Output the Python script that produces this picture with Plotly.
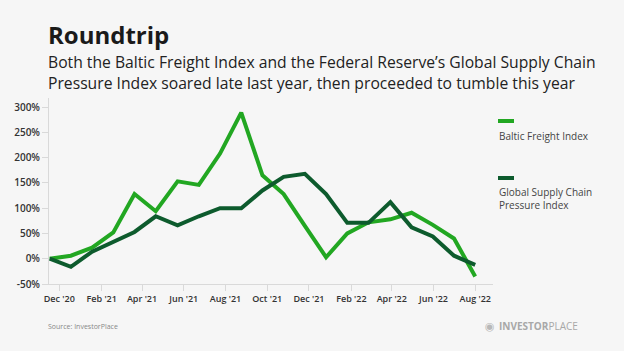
import plotly.graph_objects as go

# ---- data ----
dates = ["2020-11-17", "2020-12-18", "2021-01-18", "2021-02-18", "2021-03-21",
         "2021-04-21", "2021-05-23", "2021-06-23", "2021-07-24", "2021-08-24",
         "2021-09-24", "2021-10-25", "2021-11-25", "2021-12-26", "2022-01-26",
         "2022-02-26", "2022-03-30", "2022-04-30", "2022-05-31", "2022-07-01",
         "2022-08-01"]
baltic = [0, 6, 22, 52, 128, 94, 153, 146, 208, 289, 165, 128, 65, 3, 50,
          72, 78, 91, 67, 40, -35]
gscpi = [0, -16, 14, 33, 53, 84, 66, 84, 100, 100, 135, 162, 168, 128, 71,
         71, 112, 62, 44, 6, -12]
tick_dates = ["2020-12-01", "2021-02-01", "2021-04-01", "2021-06-01", "2021-08-01",
              "2021-10-01", "2021-12-01", "2022-02-01", "2022-04-01", "2022-06-01",
              "2022-08-01"]
tick_labels = ["Dec '20", "Feb '21", "Apr '21", "Jun '21", "Aug '21", "Oct '21",
               "Dec '21", "Feb '22", "Apr '22", "Jun '22", "Aug '22"]
y_ticks = [-50, 0, 50, 100, 150, 200, 250, 300]
y_labels = ["-50%", "0%", "50%", "100%", "150%", "200%", "250%", "300%"]
series_names = ["Baltic Freight Index", "Global Supply Chain<br>Pressure Index"]
colors = ["#22a722", "#0d5b2d"]

W, H = 624, 351
L, R, T, B = 49, 131, 98, 67
PW, PH = W - L - R, H - T - B
BG = "#f6f6f6"
FONT = "Open Sans"


def px(x):
    return (x - L) / PW


def py(y):
    return (H - B - y) / PH


fig = go.Figure()
fig.add_trace(go.Scatter(x=dates, y=baltic, mode="lines", name="Baltic",
                         line=dict(color=colors[0], width=4), showlegend=False))
fig.add_trace(go.Scatter(x=dates, y=gscpi, mode="lines", name="GSCPI",
                         line=dict(color=colors[1], width=4), showlegend=False))

annotations = [
    dict(text="<b>Roundtrip</b>", x=px(46), y=py(34), xref="paper", yref="paper",
         xanchor="left", yanchor="middle", showarrow=False,
         font=dict(family=FONT, size=24, color="#1a1a1a")),
    dict(text="Both the Baltic Freight Index and the Federal Reserve’s Global Supply Chain",
         x=px(46), y=py(62), xref="paper", yref="paper",
         xanchor="left", yanchor="middle", showarrow=False,
         font=dict(family=FONT, size=15.7, color="#222")),
    dict(text="Pressure Index soared late last year, then proceeded to tumble this year",
         x=px(46), y=py(83), xref="paper", yref="paper",
         xanchor="left", yanchor="middle", showarrow=False,
         font=dict(family=FONT, size=15.7, color="#222")),
    dict(text=series_names[0], x=px(497), y=py(136), xref="paper", yref="paper",
         xanchor="left", yanchor="middle", showarrow=False, align="left",
         font=dict(family=FONT, size=10, color="#444")),
    dict(text=series_names[1], x=px(497), y=py(198), xref="paper", yref="paper",
         xanchor="left", yanchor="middle", showarrow=False, align="left",
         font=dict(family=FONT, size=10, color="#444")),
    dict(text="Source: InvestorPlace", x=px(46), y=py(326), xref="paper", yref="paper",
         xanchor="left", yanchor="middle", showarrow=False,
         font=dict(family=FONT, size=7, color="#888")),
    dict(text="<b>INVESTOR</b>PLACE", x=px(580), y=py(326), xref="paper", yref="paper",
         xanchor="right", yanchor="middle", showarrow=False,
         font=dict(family=FONT, size=10, color="#a8a8a8")),
    dict(text="◉", x=px(497), y=py(326), xref="paper", yref="paper",
         xanchor="right", yanchor="middle", showarrow=False,
         font=dict(family="DejaVu Sans", size=11, color="#b8b8b8")),
]

shapes = [
    dict(type="line", xref="paper", yref="paper", x0=px(498), x1=px(514),
         y0=py(121), y1=py(121), line=dict(color=colors[0], width=4)),
    dict(type="line", xref="paper", yref="paper", x0=px(498), x1=px(514),
         y0=py(178), y1=py(178), line=dict(color=colors[1], width=4)),
]

fig.update_layout(
    width=W, height=H,
    margin=dict(l=L, r=R, t=T, b=B, pad=0),
    paper_bgcolor=BG, plot_bgcolor=BG,
    annotations=annotations, shapes=shapes,
    font=dict(family=FONT),
)
fig.update_xaxes(
    type="date", range=["2020-11-16", "2022-08-27"],
    tickvals=tick_dates, ticktext=tick_labels,
    showgrid=False, zeroline=False,
    showline=True, linecolor="#d9d9d9", linewidth=1,
    ticks="outside", ticklen=6, tickcolor="#d9d9d9",
    tickfont=dict(family=FONT, size=9, color="#333", weight=600),
)
fig.update_yaxes(
    range=[-50, 318],
    tickvals=y_ticks, ticktext=y_labels,
    showgrid=False, zeroline=False,
    showline=True, linecolor="#d9d9d9", linewidth=1,
    ticks="outside", ticklen=6, tickcolor="#d9d9d9",
    tickfont=dict(family=FONT, size=10, color="#333", weight=600),
)

fig.write_html("out.html")
